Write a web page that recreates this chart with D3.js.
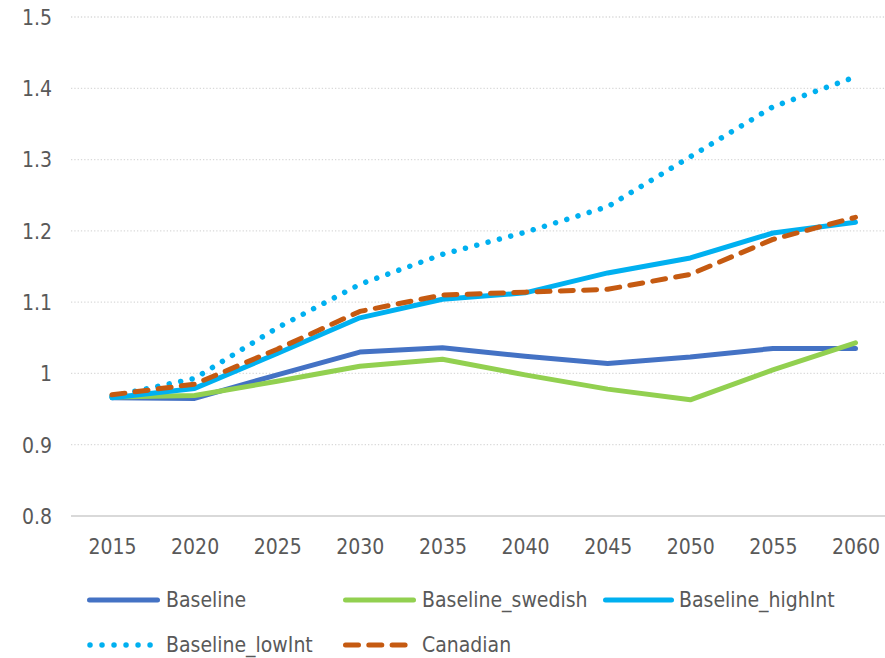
<!DOCTYPE html>
<html>
<head>
<meta charset="utf-8">
<script src="https://cdn.jsdelivr.net/npm/d3@7/dist/d3.min.js"></script>
<style>
  html, body { margin: 0; padding: 0; background: #ffffff; }
  svg { display: block; }
  text { font-family: "DejaVu Sans Condensed", "Liberation Sans Narrow", "DejaVu Sans", sans-serif; fill: #595959; }
</style>
</head>
<body>
<svg id="chart" width="885" height="658"></svg>
<script>
const years = [2015, 2020, 2025, 2030, 2035, 2040, 2045, 2050, 2055, 2060];
const yTicks = [0.8, 0.9, 1.0, 1.1, 1.2, 1.3, 1.4, 1.5];

const baseline         = [0.966, 0.965, 0.998, 1.030, 1.036, 1.024, 1.014, 1.023, 1.035, 1.035];
const baselineSwedish  = [0.967, 0.969, 0.989, 1.010, 1.020, 0.998, 0.978, 0.963, 1.005, 1.043];
const baselineHighInt  = [0.966, 0.979, 1.028, 1.078, 1.104, 1.113, 1.141, 1.162, 1.197, 1.212];
const baselineLowInt   = [0.968, 0.993, 1.064, 1.125, 1.167, 1.198, 1.234, 1.304, 1.374, 1.416];
const canadian         = [0.970, 0.985, 1.034, 1.087, 1.110, 1.114, 1.118, 1.139, 1.188, 1.219];

const seriesNames = ["Baseline", "Baseline_swedish", "Baseline_highInt", "Baseline_lowInt", "Canadian"];
const seriesValues = [baseline, baselineSwedish, baselineHighInt, baselineLowInt, canadian];
const seriesColors = ["#4472C4", "#92D050", "#00B0F0", "#00B0F0", "#C55A11"];
const seriesDash = [null, null, null, "0.01 11.7", "13 10.3"];

const svg = d3.select("#chart");

const x = d3.scalePoint().domain(years).range([112, 855.5]);
const y = d3.scaleLinear().domain([0.8, 1.5]).range([516, 17]);
const gridLeft = 71, gridRight = 885;

// gridlines
svg.append("g").selectAll("line")
  .data(yTicks.filter(t => t > 0.8))
  .join("line")
  .attr("x1", gridLeft).attr("x2", gridRight)
  .attr("y1", d => y(d)).attr("y2", d => y(d))
  .attr("stroke", "#d9d9d9").attr("stroke-width", 1.3)
  .attr("stroke-dasharray", "1.3 2");

// x axis line
svg.append("line")
  .attr("x1", gridLeft).attr("x2", gridRight)
  .attr("y1", y(0.8)).attr("y2", y(0.8))
  .attr("stroke", "#d9d9d9").attr("stroke-width", 2);

// y axis labels
const yAxis = d3.axisLeft(y).tickValues(yTicks).tickSize(0).tickPadding(0)
  .tickFormat(d => d3.format("")(+d.toFixed(1)));
const yg = svg.append("g").attr("transform", "translate(52,0)").call(yAxis);
yg.select(".domain").remove();
yg.selectAll("text").attr("font-size", 21).attr("fill", "#595959")
  .style("font-family", "'DejaVu Sans Condensed', 'Liberation Sans Narrow', sans-serif")
  .attr("dy", "0.35em");

// x axis labels
const xAxis = d3.axisBottom(x).tickSize(0).tickPadding(0).tickFormat(d3.format("d"));
const xg = svg.append("g").attr("transform", "translate(0,547)").call(xAxis);
xg.select(".domain").remove();
xg.selectAll("text").attr("font-size", 21).attr("fill", "#595959")
  .style("font-family", "'DejaVu Sans Condensed', 'Liberation Sans Narrow', sans-serif")
  .attr("dy", "0.35em");

// lines
const line = d3.line().x((d, i) => x(years[i])).y(d => y(d));
seriesValues.forEach((vals, k) => {
  const p = svg.append("path")
    .datum(vals)
    .attr("d", line)
    .attr("fill", "none")
    .attr("stroke", seriesColors[k])
    .attr("stroke-width", k === 3 ? 5.5 : 5)
    .attr("stroke-linejoin", "round")
    .attr("stroke-linecap", "round");
  if (seriesDash[k]) p.attr("stroke-dasharray", seriesDash[k]);
});

// legend
const legendPos = [
  {x: 89.5, y: 600, tx: 166},
  {x: 345.5, y: 600, tx: 422},
  {x: 605.5, y: 600, tx: 679},
  {x: 90, y: 645, tx: 166},
  {x: 345.5, y: 645, tx: 422}
];
const legendLen = [68, 68, 66, 70, 66];
const lg = svg.append("g");
seriesNames.forEach((name, k) => {
  const p = legendPos[k];
  const l = lg.append("line")
    .attr("x1", p.x).attr("x2", p.x + legendLen[k])
    .attr("y1", p.y).attr("y2", p.y)
    .attr("stroke", seriesColors[k])
    .attr("stroke-width", k === 3 ? 5.5 : 5)
    .attr("stroke-linecap", "round");
  if (seriesDash[k]) l.attr("stroke-dasharray", k === 3 ? "0.01 12" : "13 10.3");
  lg.append("text")
    .attr("x", p.tx).attr("y", p.y).attr("dy", "0.35em")
    .attr("font-size", 21)
    .text(name);
});
</script>
</body>
</html>
